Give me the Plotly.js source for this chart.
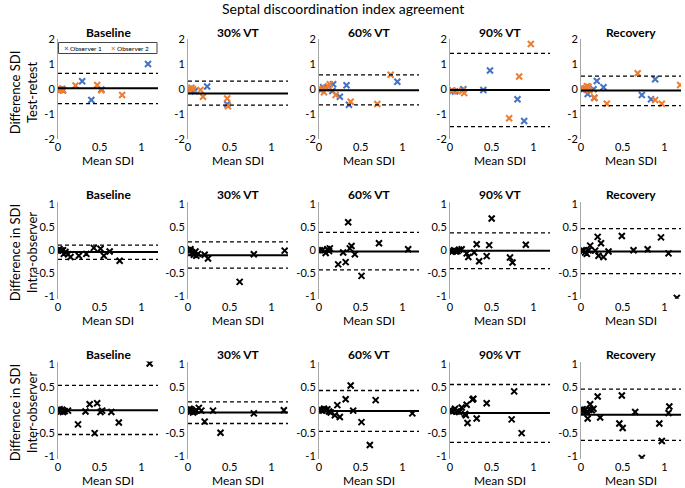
<!DOCTYPE html>
<html>
<head>
<meta charset="utf-8">
<script src="https://cdn.plot.ly/plotly-3.0.1.min.js"></script>
<style>
  html, body { margin: 0; padding: 0; background: #fff; }
  #plotArea { width: 685px; height: 488px; }
</style>
</head>
<body>
<div id="plotArea"></div>
<script>
// DATA - one inner array per condition (Baseline, 30% VT, 60% VT, 90% VT, Recovery)
var conditions = ["Baseline", "30% VT", "60% VT", "90% VT", "Recovery"];
var rowTitles = ["Difference SDI<br>Test-retest", "Difference in SDI<br>Intra-observer", "Difference in SDI<br>Inter-observer"];
var observers = ["Observer 1", "Observer 2"];

// test-retest, observer 1
var trObs1Mean = [
  [0.01, 0.03, 0.05, 0.06, 0.29, 0.40, 0.52, 1.08],
  [0.02, 0.05, 0.08, 0.23, 0.47],
  [0.01, 0.05, 0.09, 0.16, 0.17, 0.25, 0.33, 0.36, 0.94],
  [0.03, 0.06, 0.16, 0.40, 0.48, 0.81, 0.89],
  [0.02, 0.06, 0.08, 0.15, 0.16, 0.19, 0.27, 0.73, 0.84, 0.89]
];
var trObs1Diff = [
  [0.00, -0.02, 0.01, -0.05, 0.32, -0.43, -0.01, 1.01],
  [0.00, -0.05, -0.08, 0.11, -0.60],
  [0.00, 0.08, 0.05, -0.07, 0.20, -0.30, 0.16, -0.62, 0.30],
  [-0.06, -0.09, 0.00, -0.03, 0.75, -0.40, -1.27],
  [-0.02, 0.02, -0.19, 0.00, -0.35, 0.33, 0.08, -0.23, -0.40, 0.40]
];
// test-retest, observer 2
var trObs2Mean = [
  [0.00, 0.02, 0.04, 0.06, 0.21, 0.47, 0.52, 0.77],
  [0.01, 0.04, 0.06, 0.15, 0.18, 0.47, 0.48],
  [0.00, 0.03, 0.06, 0.08, 0.11, 0.13, 0.20, 0.38, 0.70, 0.86],
  [0.02, 0.09, 0.15, 0.17, 0.71, 0.83, 0.97],
  [0.01, 0.04, 0.07, 0.09, 0.10, 0.16, 0.31, 0.68, 0.89, 0.97, 1.19]
];
var trObs2Diff = [
  [0.02, -0.03, 0.00, -0.04, 0.15, 0.17, -0.04, -0.23],
  [0.02, 0.06, 0.00, -0.03, -0.30, -0.37, -0.68],
  [0.02, -0.02, -0.12, 0.05, 0.12, 0.20, -0.23, -0.50, -0.59, 0.58],
  [-0.05, -0.08, -0.05, -0.15, -1.16, 0.51, 1.81],
  [0.00, 0.03, 0.12, 0.10, -0.05, -0.33, -0.58, 0.64, -0.43, -0.58, 0.17]
];
// intra-observer
var intraMean = [
  [0.00, 0.02, 0.04, 0.06, 0.07, 0.09, 0.12, 0.15, 0.25, 0.34, 0.43, 0.51, 0.55, 0.62, 0.74],
  [0.00, 0.02, 0.03, 0.05, 0.07, 0.09, 0.10, 0.12, 0.20, 0.24, 0.62, 0.79, 1.16],
  [0.01, 0.04, 0.08, 0.10, 0.12, 0.13, 0.23, 0.29, 0.32, 0.35, 0.37, 0.39, 0.43, 0.51, 0.72, 1.07],
  [0.01, 0.03, 0.05, 0.07, 0.09, 0.11, 0.14, 0.20, 0.22, 0.29, 0.32, 0.35, 0.44, 0.47, 0.50, 0.72, 0.75, 0.91],
  [0.01, 0.03, 0.05, 0.07, 0.09, 0.11, 0.17, 0.20, 0.21, 0.24, 0.27, 0.33, 0.49, 0.63, 0.80, 0.96, 1.05, 1.15]
];
var intraDiff = [
  [0.00, 0.02, -0.01, 0.00, -0.08, -0.04, -0.09, -0.15, -0.12, -0.08, 0.05, 0.03, -0.12, -0.03, -0.23],
  [0.00, -0.02, 0.02, -0.05, -0.10, -0.03, -0.12, -0.08, -0.10, -0.18, -0.69, -0.09, -0.01],
  [0.00, 0.00, -0.06, 0.02, -0.02, 0.04, -0.31, -0.05, -0.26, 0.61, 0.04, 0.09, -0.09, -0.56, 0.15, 0.02],
  [-0.02, -0.03, 0.00, -0.03, -0.02, 0.01, 0.02, -0.07, -0.15, -0.05, 0.13, -0.24, -0.13, 0.11, 0.69, -0.16, -0.27, 0.12],
  [0.00, -0.01, -0.05, -0.08, 0.00, 0.10, -0.01, 0.29, -0.12, 0.15, -0.15, -0.03, 0.31, 0.00, 0.02, 0.28, -0.07, -1.04]
];
// inter-observer
var interMean = [
  [0.00, 0.02, 0.03, 0.05, 0.06, 0.08, 0.12, 0.24, 0.33, 0.38, 0.44, 0.47, 0.51, 0.53, 0.64, 0.73, 1.10],
  [0.00, 0.02, 0.03, 0.04, 0.06, 0.08, 0.10, 0.13, 0.16, 0.20, 0.30, 0.39, 0.79, 1.15],
  [0.00, 0.02, 0.04, 0.06, 0.08, 0.10, 0.12, 0.14, 0.19, 0.22, 0.25, 0.32, 0.38, 0.41, 0.51, 0.61, 0.68, 1.12],
  [0.00, 0.02, 0.04, 0.06, 0.08, 0.11, 0.14, 0.18, 0.19, 0.20, 0.21, 0.27, 0.28, 0.32, 0.44, 0.74, 0.77, 0.86],
  [0.00, 0.02, 0.03, 0.05, 0.07, 0.08, 0.10, 0.11, 0.13, 0.15, 0.20, 0.23, 0.46, 0.49, 0.50, 0.65, 0.73, 0.94, 0.97, 1.05, 1.06]
];
var interDiff = [
  [0.00, 0.02, -0.03, 0.01, -0.04, -0.02, -0.01, -0.31, -0.03, 0.13, -0.50, 0.15, -0.04, -0.01, -0.04, -0.27, 1.02],
  [0.00, 0.03, -0.03, 0.01, -0.05, -0.03, 0.00, 0.05, -0.01, -0.25, -0.01, -0.49, -0.07, 0.00],
  [0.00, 0.02, -0.01, 0.03, 0.00, 0.02, -0.03, -0.05, -0.11, 0.11, -0.15, 0.24, 0.54, -0.01, -0.26, -0.76, 0.22, -0.07],
  [0.00, -0.03, -0.02, 0.03, -0.03, -0.04, 0.06, -0.08, -0.11, 0.12, -0.28, 0.23, 0.25, -0.18, 0.15, -0.20, 0.41, -0.50],
  [0.00, 0.02, -0.03, 0.01, -0.04, -0.18, 0.01, 0.13, 0.00, 0.03, 0.30, -0.16, -0.29, 0.32, -0.39, -0.04, -1.04, -0.29, -0.67, -0.06, 0.08]
];

// bias and limits of agreement per condition
var trBias = [0.04, -0.17, -0.04, -0.03, -0.05];
var trUpper = [0.64, 0.33, 0.58, 1.44, 0.53];
var trLower = [-0.57, -0.63, -0.62, -1.49, -0.65];
var intraBias = [-0.04, -0.11, -0.03, -0.01, -0.03];
var intraUpper = [0.11, 0.18, 0.39, 0.38, 0.47];
var intraLower = [-0.20, -0.39, -0.43, -0.40, -0.51];
var interBias = [0.00, -0.05, -0.02, -0.06, -0.10];
var interUpper = [0.54, 0.18, 0.43, 0.56, 0.46];
var interLower = [-0.53, -0.29, -0.46, -0.70, -0.66];

var xTicks = [0, 0.5, 1];
var yTicksTop = [-2, -1, 0, 1, 2];
var yTicksLow = [-1, -0.5, 0, 0.5, 1];

// LAYOUT - pixel boxes of the 3x5 grid
var W = 685, H = 488;
var colLeft = [58, 188, 319, 450, 581];
var colW = 100;
var rowTop = [39.3, 201.6, 361.6];
var rowBot = [139.3, 298.8, 458.8];
var font = "Lato, 'Open Sans', sans-serif";

var blue = "#4472C4", orange = "#ED7D31";

var data = [];
var shapes = [];
var annotations = [];
var layout = {
  width: W, height: H,
  margin: {l: 0, r: 0, t: 0, b: 0},
  paper_bgcolor: "#fff", plot_bgcolor: "#fff",
  font: {family: font, color: "#000", size: 11},
  showlegend: false
};

function marker(col) {
  return {symbol: "x-thin", size: 6, color: col, line: {width: 2, color: col}};
}

var rows = [
  {bias: trBias, up: trUpper, lo: trLower},
  {bias: intraBias, up: intraUpper, lo: intraLower},
  {bias: interBias, up: interUpper, lo: interLower}
];

for (var r = 0; r < 3; r++) {
  for (var c = 0; c < 5; c++) {
    var k = r * 5 + c + 1;
    var xa = k === 1 ? "x" : "x" + k;
    var ya = k === 1 ? "y" : "y" + k;
    var yt = r === 0 ? yTicksTop : yTicksLow;

    layout["xaxis" + (k === 1 ? "" : k)] = {
      domain: [colLeft[c] / W, (colLeft[c] + colW) / W],
      anchor: ya, range: [0, 1.2],
      tickvals: xTicks, ticktext: xTicks.map(String),
      showline: false, showgrid: false, zeroline: false, ticks: "",
      tickfont: {size: 11},
      title: {text: "Mean SDI", font: {size: 12}, standoff: 3}
    };
    layout["yaxis" + (k === 1 ? "" : k)] = {
      domain: [1 - rowBot[r] / H, 1 - rowTop[r] / H],
      anchor: xa, range: r === 0 ? [-2, 2] : [-1.06, 1.06],
      tickvals: yt, ticktext: yt.map(String),
      showline: true, linecolor: "#a6a6a6", linewidth: 1,
      showgrid: false, zeroline: false, ticks: "",
      tickfont: {size: 11}
    };

    if (r === 0) {
      data.push({x: trObs1Mean[c], y: trObs1Diff[c], xaxis: xa, yaxis: ya,
        type: "scatter", mode: "markers", name: observers[0], marker: marker(blue)});
      data.push({x: trObs2Mean[c], y: trObs2Diff[c], xaxis: xa, yaxis: ya,
        type: "scatter", mode: "markers", name: observers[1], marker: marker(orange)});
    } else {
      var mx = r === 1 ? intraMean : interMean;
      var dy = r === 1 ? intraDiff : interDiff;
      data.push({x: mx[c], y: dy[c], xaxis: xa, yaxis: ya,
        type: "scatter", mode: "markers", marker: marker("#000")});
    }

    // bias (solid) and limits of agreement (dashed)
    var st = rows[r];
    shapes.push({type: "line", xref: xa + " domain", yref: ya, x0: 0, x1: 1,
      y0: st.bias[c], y1: st.bias[c], line: {color: "#000", width: 2}});
    [st.up[c], st.lo[c]].forEach(function (v) {
      shapes.push({type: "line", xref: xa + " domain", yref: ya, x0: 0, x1: 1,
        y0: v, y1: v, line: {color: "#000", width: 1.3, dash: "4px,3px"}});
    });

    annotations.push({text: "<b>" + conditions[c] + "</b>", xref: "paper", yref: "paper",
      x: (colLeft[c] + colW / 2) / W, y: 1 - (rowTop[r] - 7) / H,
      xanchor: "center", yanchor: "middle", showarrow: false, font: {size: 12}});
  }
  annotations.push({text: rowTitles[r], xref: "paper", yref: "paper",
    x: 23 / W, y: 1 - ((rowTop[r] + rowBot[r]) / 2 + 3) / H, textangle: -90,
    xanchor: "center", yanchor: "middle", showarrow: false, font: {size: 13}});
}

// small boxed legend inside the first panel (plotly's own legend is too wide here)
shapes.push({type: "rect", xref: "paper", yref: "paper",
  x0: 58.5 / W, x1: 157 / W, y0: 1 - 53.5 / H, y1: 1 - 42.5 / H,
  line: {color: "#444", width: 1}, fillcolor: "#fff", layer: "above"});
var legX = [62, 109];
var legCol = [blue, orange];
for (var i = 0; i < 2; i++) {
  annotations.push({text: "<b>×</b>", xref: "paper", yref: "paper",
    x: legX[i] / W, y: 1 - 48 / H, xanchor: "left", yanchor: "middle",
    showarrow: false, font: {size: 8, color: legCol[i]}});
  annotations.push({text: observers[i], xref: "paper", yref: "paper",
    x: (legX[i] + 6) / W, y: 1 - 48 / H, xanchor: "left", yanchor: "middle",
    showarrow: false, font: {size: 6.5}});
}

annotations.push({text: "Septal discoordination index agreement", xref: "paper", yref: "paper",
  x: 343 / W, y: 1 - 8 / H, xanchor: "center", yanchor: "middle", showarrow: false,
  font: {size: 14}});

layout.shapes = shapes;
layout.annotations = annotations;

Plotly.newPlot("plotArea", data, layout, {displayModeBar: false, staticPlot: true});
</script>
</body>
</html>
